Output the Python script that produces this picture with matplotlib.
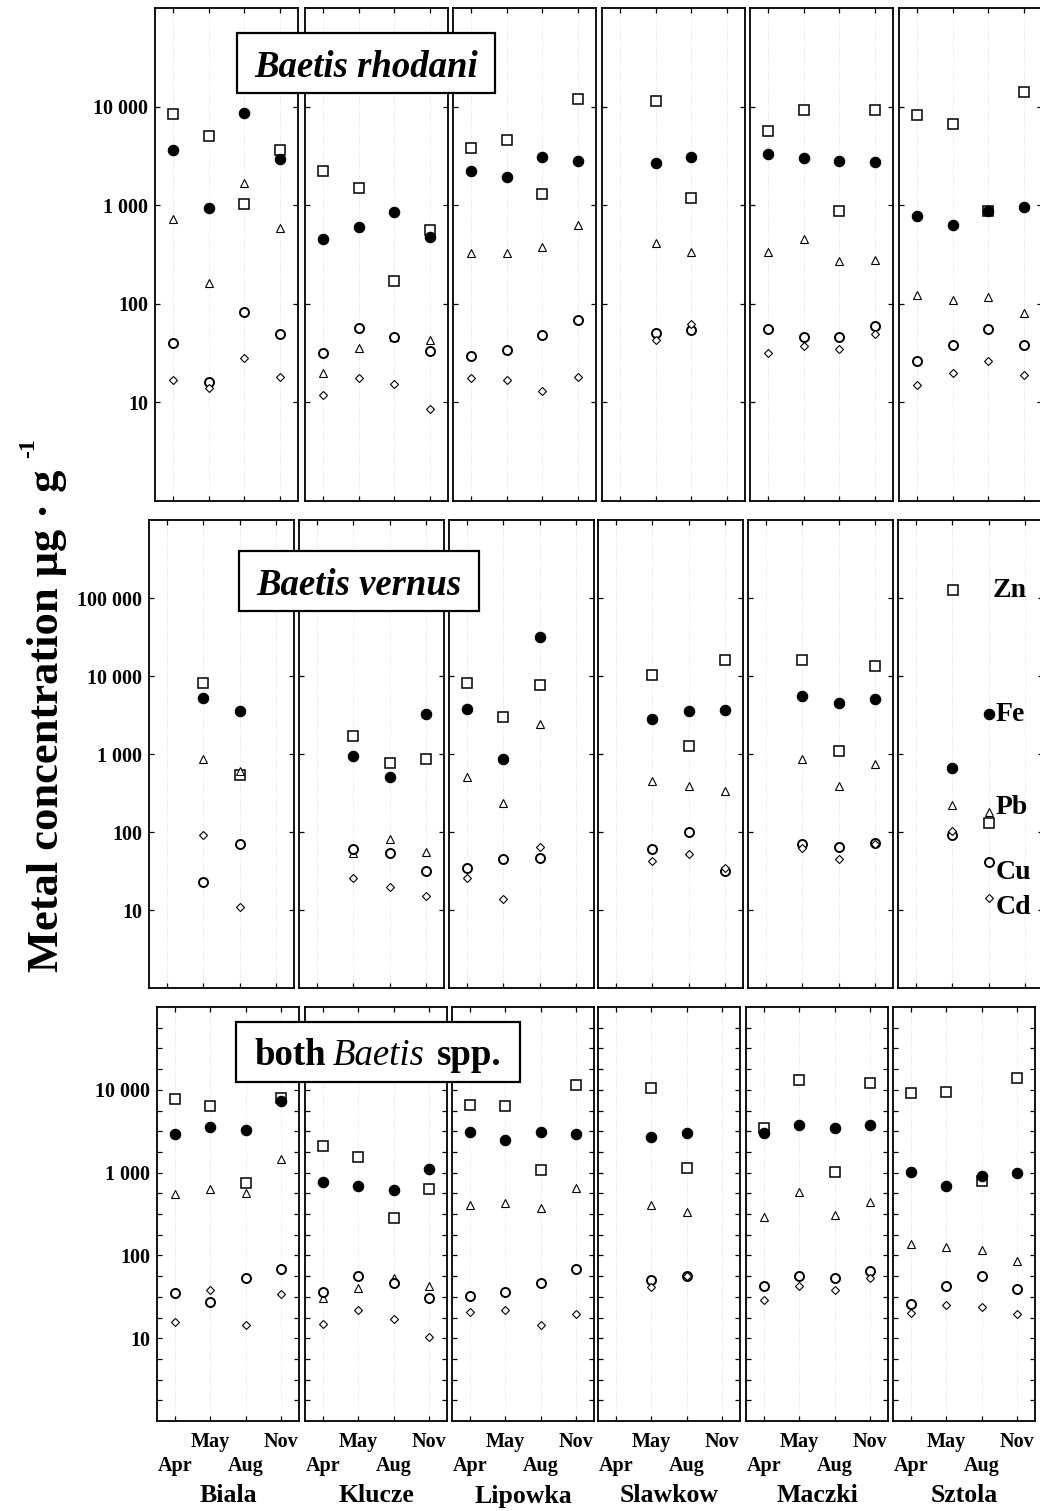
import numpy as np
import matplotlib.pyplot as plt
from matplotlib.patches import Rectangle
from matplotlib.ticker import FixedLocator, FuncFormatter, NullFormatter

nan = np.nan

SITES = ['Biala', 'Klucze', 'Lipowka', 'Slawkow', 'Maczki', 'Sztola']
MONTHS = ['Apr', 'May', 'Aug', 'Nov']
METALS = ['Zn', 'Fe', 'Pb', 'Cu', 'Cd']

# Baetis rhodani, one list per site: Apr, May, Aug, Nov (ug/g)
RH_ZN = [[8500, 5000, 1020, 3660], [2200, 1480, 170, 565], [3840, 4630, 1290, 12000],
         [nan, 11300, 1170, nan], [5600, 9300, 870, 9300], [8300, 6700, 870, 13900]]
RH_FE = [[3660, 927, 8700, 2960], [457, 605, 845, 480], [2200, 1910, 3110, 2830],
         [nan, 2700, 3110, nan], [3270, 3040, 2830, 2760], [775, 635, 880, 950]]
RH_PB = [[733, 161, 1660, 594], [19.7, 36, 46, 43], [325, 325, 374, 633],
         [nan, 417, 333, nan], [333, 457, 270, 276], [122, 110, 117, 81]]
RH_CU = [[40, 16, 83, 49], [31.6, 57, 46, 33], [29.6, 34, 48, 69],
         [nan, 51, 54, nan], [56, 46, 46, 60], [26, 38, 55, 38]]
RH_CD = [[17, 14, 28, 18], [11.8, 17.6, 15.5, 8.5], [17.6, 17, 13.2, 18],
         [nan, 43, 62, nan], [32, 37, 35, 49], [15, 20, 26, 18.8]]

# Baetis vernus
VE_ZN = [[nan, 8100, 540, nan], [nan, 1700, 770, 870], [8100, 2950, 7700, nan],
         [nan, 10200, 1250, 16000], [nan, 16000, 1100, 13400], [nan, nan, 130, nan]]
VE_FE = [[nan, 5250, 3570, nan], [nan, 930, 510, 3250], [3830, 870, 31600, nan],
         [nan, 2830, 3560, 3640], [nan, 5500, 4500, 5070], [nan, 660, nan, nan]]
VE_PB = [[nan, 870, 600, nan], [nan, 54, 81, 55], [510, 235, 2400, nan],
         [nan, 450, 390, 340], [nan, 870, 390, 740], [nan, 222, nan, nan]]
VE_CU = [[nan, 23, 71, nan], [nan, 60, 54, 32], [35, 45, 47, nan],
         [nan, 60, 100, 32], [nan, 71, 65, 72], [nan, 91, nan, nan]]
VE_CD = [[nan, 92, 11, nan], [nan, 26, 20, 15], [26, 14, 64, nan],
         [nan, 43, 52, 35], [nan, 62, 45, 70], [nan, 102, nan, nan]]

# both Baetis spp.
BO_ZN = [[7800, 6400, 740, 8000], [2110, 1560, 280, 630], [6600, 6300, 1090, 11500],
         [nan, 10600, 1150, nan], [3480, 13200, 1030, 12100], [9200, 9450, 800, 14000]]
BO_FE = [[2950, 3600, 3300, 7400], [760, 680, 610, 1120], [3100, 2500, 3100, 2950],
         [nan, 2700, 3030, nan], [3030, 3800, 3480, 3800], [1030, 680, 920, 980]]
BO_PB = [[545, 630, 560, 1480], [31, 40, 54, 43], [410, 425, 370, 660],
         [nan, 410, 330, nan], [290, 575, 310, 445], [136, 128, 115, 85]]
BO_CU = [[35, 27, 54, 69], [36, 56, 47, 31], [32, 36, 46, 69],
         [nan, 51, 56, nan], [43, 56, 54, 65], [26, 43, 56, 39]]
BO_CD = [[15.5, 38, 14.5, 34], [15, 22, 17, 10.3], [21, 22, 14.3, 19.6],
         [nan, 42, 57, nan], [29, 43, 38, 53], [20, 25, 23.5, 19.6]]

ROWS = [
    {'Zn': RH_ZN, 'Fe': RH_FE, 'Pb': RH_PB, 'Cu': RH_CU, 'Cd': RH_CD},
    {'Zn': VE_ZN, 'Fe': VE_FE, 'Pb': VE_PB, 'Cu': VE_CU, 'Cd': VE_CD},
    {'Zn': BO_ZN, 'Fe': BO_FE, 'Pb': BO_PB, 'Cu': BO_CU, 'Cd': BO_CD},
]

STYLE = {
    'Zn': dict(marker='s', ms=6.5, mfc='white', mec='black', mew=1.1),
    'Pb': dict(marker='^', ms=5.5, mfc='white', mec='black', mew=0.8),
    'Cu': dict(marker='o', ms=6.5, mfc='white', mec='black', mew=1.4),
    'Cd': dict(marker='D', ms=4.3, mfc='white', mec='black', mew=0.8),
    'Fe': dict(marker='o', ms=7.5, mfc='black', mec='black', mew=0.8),
}
DRAW_ORDER = ['Zn', 'Pb', 'Cu', 'Cd', 'Fe']

plt.rcParams['font.family'] = ['Liberation Serif', 'DejaVu Serif']
plt.rcParams['font.weight'] = 'bold'

W, H = 1040, 1511
fig = plt.figure(figsize=(W / 100, H / 100), dpi=100)


def px_axes(left, top, width, height):
    return fig.add_axes([left / W, 1 - (top + height) / H, width / W, height / H])


def thousands(v, pos):
    return f'{int(round(v)):,}'.replace(',', ' ')


# layout in pixels: (top, height, panel width, panel lefts, y max)
LAYOUT = [
    (8, 493, 143, [155, 305, 453, 602, 750, 899], 1e5),
    (520, 468, 145, [149, 299, 449, 598, 748, 898], 1e6),
    (1007, 414, 142, [157, 305, 452, 598, 746, 893], 1e5),
]

all_axes = []
for r, (top, h, w, lefts, ymax) in enumerate(LAYOUT):
    row_axes = []
    for c, left in enumerate(lefts):
        ax = px_axes(left, top, w, h)
        x = np.arange(1, len(MONTHS) + 1)
        for m in DRAW_ORDER:
            ax.plot(x, ROWS[r][m][c], ls='none', clip_on=False, **STYLE[m])
        ax.set_yscale('log')
        ax.set_ylim(1, ymax)
        ax.set_xlim(0.5, 4.5)
        ax.set_xticks(x)
        majors = [10 ** k for k in range(1, int(np.log10(ymax)))]
        ax.yaxis.set_major_locator(FixedLocator(majors))
        if r == 2:
            minors = [10 ** (k / 4) for k in range(1, 20) if k % 4]
            ax.yaxis.set_minor_locator(FixedLocator(minors))
        else:
            ax.yaxis.set_minor_locator(FixedLocator([]))
        ax.yaxis.set_minor_formatter(NullFormatter())
        ax.tick_params(which='both', direction='in', top=True, right=True,
                       length=3.5, width=0.9, labelsize=14.5)
        ax.tick_params(axis='y', pad=5)
        ax.tick_params(axis='x', pad=8)
        ax.grid(axis='x', color='0.85', ls=':', lw=0.6)
        for s in ax.spines.values():
            s.set_linewidth(1.3)
        if c == 0:
            ax.yaxis.set_major_formatter(FuncFormatter(thousands))
        else:
            ax.yaxis.set_major_formatter(NullFormatter())
        if r == 2:
            ax.set_xticklabels(['\n' + MONTHS[0], MONTHS[1], '\n' + MONTHS[2], MONTHS[3]],
                               fontsize=14.5, fontweight='bold', linespacing=1.25)
            fig.text((left + w / 2) / W, 1 - 1496 / H, SITES[c], fontsize=18.5,
                     fontweight='bold', ha='center', va='center')
        else:
            ax.set_xticklabels([])
        for lab in ax.get_yticklabels():
            lab.set_fontweight('bold')
        row_axes.append(ax)
    all_axes.append(row_axes)

# legend inside Sztola panel of the middle row
lax = all_axes[1][5]
LEG_MARK = {'Zn': (0.38, 0.850), 'Fe': (0.628, 0.585), 'Pb': (0.628, 0.376),
            'Cu': (0.628, 0.269), 'Cd': (0.628, 0.192)}
LEG_TEXT = {'Zn': (0.655, 0.850), 'Fe': (0.672, 0.585), 'Pb': (0.672, 0.385),
            'Cu': (0.672, 0.246), 'Cd': (0.672, 0.171)}
for m in METALS:
    mx, my = LEG_MARK[m]
    lax.plot([mx], [my], ls='none', transform=lax.transAxes, clip_on=False, **STYLE[m])
    tx, ty = LEG_TEXT[m]
    lax.text(tx, ty, m, transform=lax.transAxes, fontsize=20, fontweight='bold',
             ha='left', va='center', clip_on=False)


# title boxes
def title_box(x0, y0, x1, y1):
    fig.patches.append(Rectangle((x0 / W, 1 - y1 / H), (x1 - x0) / W, (y1 - y0) / H,
                                 transform=fig.transFigure, facecolor='white',
                                 edgecolor='black', lw=1.6, zorder=5))


title_box(237, 33, 495, 93)
fig.text(366 / W, 1 - 77 / H, 'Baetis rhodani', fontsize=26.5, fontweight='bold',
         fontstyle='italic', ha='center', va='baseline', zorder=6)

title_box(239, 551, 479, 611)
fig.text(359 / W, 1 - 595 / H, 'Baetis vernus', fontsize=26.5, fontweight='bold',
         fontstyle='italic', ha='center', va='baseline', zorder=6)

title_box(236, 1022, 520, 1082)
fig.text(326 / W, 1 - 1065 / H, 'both', fontsize=26.5, fontweight='bold',
         ha='right', va='baseline', zorder=6)
fig.text(333 / W, 1 - 1065 / H, 'Baetis', fontsize=26.5, fontweight='normal',
         fontstyle='italic', ha='left', va='baseline', zorder=6)
fig.text(437 / W, 1 - 1065 / H, 'spp.', fontsize=26.5, fontweight='bold',
         ha='left', va='baseline', zorder=6)

# y axis label, superscript drawn separately as a short hyphen
fig.text(47 / W, 1 - 972 / H, 'Metal concentration μg · g',
         fontsize=32, fontweight='bold', rotation=90, ha='center', va='bottom')
fig.text(29 / W, 1 - 458 / H, '-1', fontsize=17, fontweight='bold',
         rotation=90, ha='center', va='bottom')

fig.savefig('out.png', dpi=100)
